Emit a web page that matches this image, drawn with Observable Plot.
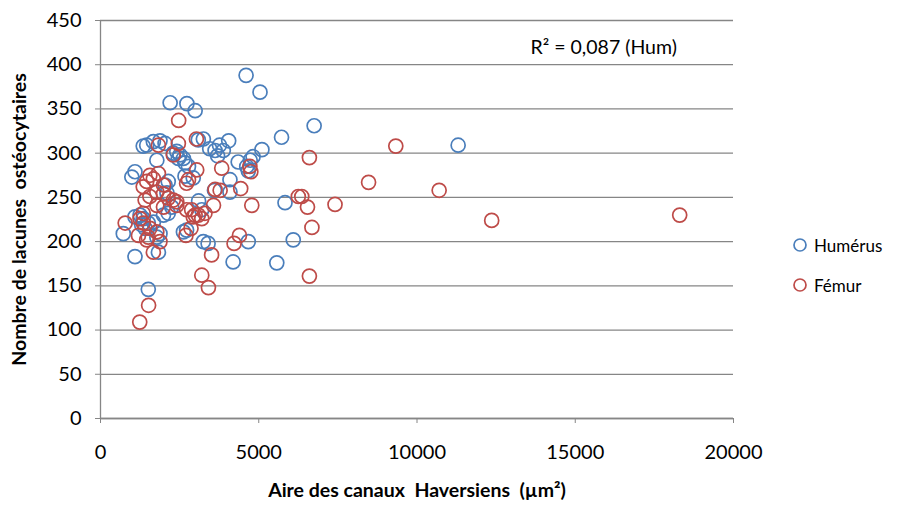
<!DOCTYPE html>
<html>
<head>
<meta charset="utf-8">
<script src="https://cdn.jsdelivr.net/npm/d3@7"></script>
<script src="https://cdn.jsdelivr.net/npm/@observablehq/plot@0.6"></script>
<style>
  html, body { margin: 0; padding: 0; background: #fff; }
  #wrap { position: relative; width: 898px; height: 507px; font-family: Lato, "Open Sans", sans-serif; }
  #wrap svg { position: absolute; left: 0; top: 0; }
  #legend { position: absolute; left: 792px; top: 233px; font-size: 17px; color: #000; }
  #legend .item { display: flex; align-items: center; height: 24px; margin-bottom: 16px; }
  #legend svg { position: static; margin-right: 6px; }
</style>
</head>
<body>
<div id="wrap"></div>
<script>
// ---- data ----
const seriesNames = ["Humérus", "Fémur"];
const seriesColors = ["#4A7EBB", "#BE4B48"];

const humerusX = [4600, 5040, 2200, 2730, 2990, 6750, 5720, 11300, 1350, 1460, 1670, 1880, 2040, 3090, 3250, 4050,
  3450, 3620, 3760, 3880, 3700, 5100, 4820, 4730, 4350, 4620, 4670, 2300, 2410, 2510, 2460, 2620, 2670, 1780,
  2780, 1090, 990, 2670, 2930, 4090, 2040, 2140, 3600, 4090, 5830, 1090, 1250, 1350, 1300, 1410, 1510, 1670,
  1880, 1780, 720, 1090, 1830, 1990, 2140, 2620, 2720, 2250, 3200, 3250, 3400, 4670, 4190, 5570, 6090, 1510,
  2100, 3100];
const humerusY = [388, 369, 357, 356, 348, 331, 318, 309, 308, 309, 313, 314, 311, 315, 316, 314,
  305, 303, 309, 303, 297, 304, 296, 292, 290, 285, 280, 300, 302, 298, 294, 294, 289, 292,
  285, 279, 273, 274, 272, 270, 264, 268, 258, 256, 244, 228, 230, 226, 219, 215, 221, 222,
  209, 205, 209, 183, 188, 230, 232, 211, 213, 239, 236, 200, 198, 200, 177, 176, 202, 146,
  255, 246];

const femurX = [2470, 3030, 2460, 1830, 2300, 4720, 4750, 3830, 3040, 6600, 2720, 2780, 1560, 1670, 1460, 1350,
  1830, 1990, 1410, 1560, 1780, 1990, 2140, 2300, 2410, 3780, 3620, 4430, 3570, 4780, 780, 1350, 1250, 1350,
  1560, 1510, 1780, 1880, 1460, 1200, 1670, 1780, 1990, 2410, 2880, 2990, 2720, 3090, 2930, 3300, 3200, 4390,
  4220, 3510, 3200, 3410, 1520, 1240, 6250, 6360, 6540, 7410, 6680, 6600, 8470, 9330, 10700, 12360, 18300,
  2860, 2700];
const femurY = [337, 316, 311, 309, 298, 285, 279, 283, 281, 295, 266, 270, 275, 271, 268, 262,
  277, 264, 247, 251, 256, 254, 249, 247, 245, 258, 259, 260, 241, 241, 221, 232, 226, 221,
  215, 205, 211, 200, 202, 207, 188, 241, 239, 241, 236, 230, 236, 230, 228, 232, 226, 207,
  198, 185, 162, 148, 128, 109, 251, 251, 239, 242, 216, 161, 267, 308, 258, 224, 230,
  215, 207];

const xTicks = [0, 5000, 10000, 15000, 20000];
const yTicks = [0, 50, 100, 150, 200, 250, 300, 350, 400, 450];
const xTitle = "Aire des canaux  Haversiens  (µm²)";
const yTitle = "Nombre de lacunes  ostéocytaires";
const annotation = "R² = 0,087 (Hum)";

// ---- build ----
const humerus = humerusX.map((x, i) => ({x, y: humerusY[i]}));
const femur = femurX.map((x, i) => ({x, y: femurY[i]}));
const gray = "#868686";

const chart = Plot.plot({
  width: 898,
  height: 507,
  marginLeft: 100,
  marginRight: 165,
  marginTop: 20,
  marginBottom: 89,
  style: {fontFamily: "Lato, 'Open Sans', sans-serif", background: "transparent", overflow: "visible"},
  x: {domain: [0, 20000]},
  y: {domain: [0, 450]},
  marks: [
    Plot.gridY(yTicks, {stroke: gray, strokeOpacity: 1, strokeWidth: 1.3}),
    Plot.ruleX([0], {stroke: gray, strokeWidth: 1.3}),
    Plot.ruleY([0], {stroke: gray, strokeWidth: 1.3}),
    Plot.axisY(yTicks, {tickSize: 5, tickPadding: 14, stroke: gray, fill: "#000", fontSize: 20, label: null, tickFormat: d => String(d)}),
    Plot.axisX(xTicks, {tickSize: 5, tickPadding: 21, stroke: gray, fill: "#000", fontSize: 20, label: null, tickFormat: d => String(d)}),
    Plot.text([yTitle], {frameAnchor: "left", textAnchor: "middle", rotate: -90, dx: -81, fontSize: 19.5, fontWeight: "bold", fill: "#000"}),
    Plot.text([xTitle], {frameAnchor: "bottom", textAnchor: "middle", dy: 78, fontSize: 19.5, fontWeight: "bold", fill: "#000"}),
    Plot.text([annotation], {frameAnchor: "top-right", textAnchor: "start", dx: -203, dy: 20, fontSize: 19.5, fill: "#000"}),
    Plot.dot(humerus, {x: "x", y: "y", r: 7, stroke: seriesColors[0], strokeWidth: 1.7, fill: "none"}),
    Plot.dot(femur, {x: "x", y: "y", r: 7, stroke: seriesColors[1], strokeWidth: 1.7, fill: "none"})
  ]
});

const wrap = document.getElementById("wrap");
wrap.appendChild(chart);

const legend = document.createElement("div");
legend.id = "legend";
seriesNames.forEach((name, i) => {
  const item = document.createElement("div");
  item.className = "item";
  item.innerHTML = `<svg width="16" height="16"><circle cx="8" cy="8" r="6" fill="none" stroke="${seriesColors[i]}" stroke-width="1.7"></circle></svg><span>${name}</span>`;
  legend.appendChild(item);
});
wrap.appendChild(legend);
</script>
</body>
</html>
